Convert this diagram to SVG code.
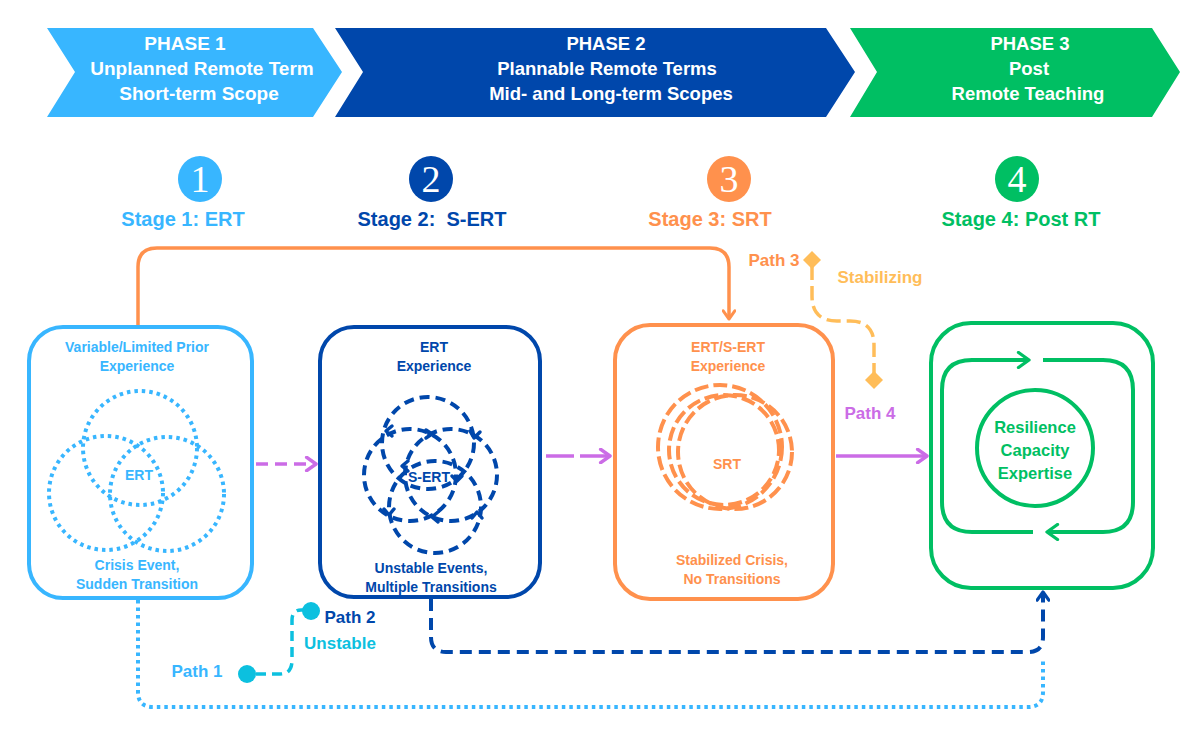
<svg xmlns="http://www.w3.org/2000/svg" width="1200" height="732" viewBox="0 0 1200 732">
<defs>
<style>
text{font-family:"Liberation Sans",Arial,sans-serif;font-weight:bold;text-anchor:middle;white-space:pre}
.ph{fill:#fff;font-size:18.5px}
.st{font-size:20px}
.bx{font-size:14px}
.lb{font-size:17px}
.num{font-family:"Liberation Serif","Times New Roman",serif;font-weight:normal;fill:#fff;font-size:38px}
.box{fill:#fff;stroke-width:4}
.dot{fill:none;stroke:#38B6FF;stroke-width:4;stroke-dasharray:3.5 4}
.dsh{fill:none;stroke:#0047AB;stroke-width:4;stroke-dasharray:10 6}
.osh{fill:none;stroke:#FF914D;stroke-width:4;stroke-dasharray:14 5}
.chev{fill:none;stroke:#0047AB;stroke-width:3.5;stroke-linecap:round;stroke-linejoin:round}
</style>
<marker id="aOr" viewBox="0 0 12 12" refX="10" refY="6" markerWidth="14" markerHeight="14" markerUnits="userSpaceOnUse" orient="auto"><path d="M3,1 L10,6 L3,11" fill="none" stroke="#FF914D" stroke-width="2.6" stroke-linecap="round" stroke-linejoin="round"/></marker>
<marker id="aPu" viewBox="0 0 12 12" refX="10" refY="6" markerWidth="16" markerHeight="16" markerUnits="userSpaceOnUse" orient="auto"><path d="M3,1 L10,6 L3,11" fill="none" stroke="#CB6CE6" stroke-width="2.6" stroke-linecap="round" stroke-linejoin="round"/></marker>
<marker id="aBl" viewBox="0 0 12 12" refX="10" refY="6" markerWidth="14" markerHeight="14" markerUnits="userSpaceOnUse" orient="auto"><path d="M3,1 L10,6 L3,11" fill="none" stroke="#0047AB" stroke-width="2.8" stroke-linecap="round" stroke-linejoin="round"/></marker>
<marker id="aGr" viewBox="0 0 12 12" refX="10" refY="6" markerWidth="18" markerHeight="18" markerUnits="userSpaceOnUse" orient="auto"><path d="M3,1 L10,6 L3,11" fill="none" stroke="#00BF63" stroke-width="2.2" stroke-linecap="round" stroke-linejoin="round"/></marker>
</defs>
<rect width="1200" height="732" fill="#fff"/>

<g id="phase1">
<path d="M47,28 L313,28 L342,72 L313,117 L47,117 L75,72 Z" fill="#38B6FF"/>
<text class="ph" x="185" y="50" style="font-size:19px">PHASE 1</text>
<text class="ph" x="202" y="75" style="font-size:19px">Unplanned Remote Term</text>
<text class="ph" x="199" y="100" style="font-size:19px">Short-term Scope</text>
</g>
<g id="phase2">
<path d="M335,28 L826,28 L855,72 L826,117 L335,117 L363,72 Z" fill="#0047AB"/>
<text class="ph" x="606" y="50">PHASE 2</text>
<text class="ph" x="607" y="75">Plannable Remote Terms</text>
<text class="ph" x="611" y="100">Mid- and Long-term Scopes</text>
</g>
<g id="phase3">
<path d="M850,28 L1152,28 L1180,72 L1152,117 L850,117 L877,72 Z" fill="#00BF63"/>
<text class="ph" x="1030" y="50">PHASE 3</text>
<text class="ph" x="1029" y="75">Post</text>
<text class="ph" x="1028" y="100">Remote Teaching</text>
</g>

<g id="stage1">
<ellipse cx="200" cy="179" rx="22" ry="23" fill="#38B6FF"/>
<text class="num" x="200" y="192">1</text>
<text class="st" x="183" y="226" fill="#38B6FF">Stage 1: ERT</text>
</g>
<g id="stage2">
<ellipse cx="431" cy="179" rx="22" ry="23" fill="#0047AB"/>
<text class="num" x="431" y="192">2</text>
<text class="st" x="432" y="226" fill="#0047AB">Stage 2:  S-ERT</text>
</g>
<g id="stage3">
<ellipse cx="729" cy="179" rx="22" ry="23" fill="#FF914D"/>
<text class="num" x="729" y="192">3</text>
<text class="st" x="710" y="226" fill="#FF914D">Stage 3: SRT</text>
</g>
<g id="stage4">
<ellipse cx="1017" cy="179" rx="22" ry="23" fill="#00BF63"/>
<text class="num" x="1017" y="192">4</text>
<text class="st" x="1021" y="226" fill="#00BF63">Stage 4: Post RT</text>
</g>

<g id="connectors">
<path d="M138,326 V267 Q138,248 157,248 H710 Q729,248 729,267 V319" fill="none" stroke="#FF914D" stroke-width="3.5" marker-end="url(#aOr)"/>
<path d="M256,464 H316" fill="none" stroke="#CB6CE6" stroke-width="3.5" stroke-dasharray="12 7" marker-end="url(#aPu)"/>
<path d="M546,456 H610" fill="none" stroke="#CB6CE6" stroke-width="3.5" stroke-dasharray="28 6" marker-end="url(#aPu)"/>
<path d="M836,456 H927" fill="none" stroke="#CB6CE6" stroke-width="3.5" marker-end="url(#aPu)"/>
<path d="M138,600 V692 Q138,707 153,707 H1028 Q1043,707 1043,692 V660" class="dot"/>
<path d="M431,599 V637 Q431,652 446,652 H1028 Q1043,652 1043,637 V592" fill="none" stroke="#0047AB" stroke-width="4" stroke-dasharray="12 7" marker-end="url(#aBl)"/>
<path d="M812,266 V296 Q812,321 837,321 H850 Q874,321 874,345 V374" fill="none" stroke="#FFBD59" stroke-width="3.5" stroke-dasharray="14 6"/>
<path d="M812,251 L821,260 L812,269 L803,260 Z" fill="#FFBD59"/>
<path d="M874,371 L883,380 L874,389 L865,380 Z" fill="#FFBD59"/>
<path d="M256,674 H280 Q292,674 292,660 V620 Q292,609 303,610" fill="none" stroke="#0CC0DF" stroke-width="3.5" stroke-dasharray="10 6"/>
<circle cx="247" cy="674" r="9" fill="#0CC0DF"/>
<circle cx="311" cy="611" r="9" fill="#0CC0DF"/>
<text class="lb" x="774" y="266" fill="#FF914D">Path 3</text>
<text class="lb" x="880" y="283" fill="#FFBD59">Stabilizing</text>
<text class="lb" x="870" y="419" fill="#CB6CE6">Path 4</text>
<text class="lb" x="197" y="677" fill="#38B6FF">Path 1</text>
<text class="lb" x="350" y="623" fill="#0047AB">Path 2</text>
<text class="lb" x="340" y="649" fill="#0CC0DF">Unstable</text>
</g>

<g id="box1">
<rect class="box" x="29" y="327" width="223" height="271" rx="34" stroke="#38B6FF"/>
<text class="bx" x="137" y="352" fill="#38B6FF">Variable/Limited Prior</text>
<text class="bx" x="137" y="371" fill="#38B6FF">Experience</text>
<circle class="dot" cx="140" cy="448" r="57"/>
<circle class="dot" cx="106" cy="493" r="57"/>
<circle class="dot" cx="167" cy="494" r="57"/>
<text class="bx" x="139" y="480" fill="#38B6FF">ERT</text>
<text class="bx" x="137" y="570" fill="#38B6FF">Crisis Event,</text>
<text class="bx" x="137" y="589" fill="#38B6FF">Sudden Transition</text>
</g>

<g id="box2">
<rect class="box" x="320" y="327" width="220" height="270" rx="34" stroke="#0047AB"/>
<text class="bx" x="434" y="352" fill="#0047AB">ERT</text>
<text class="bx" x="434" y="371" fill="#0047AB">Experience</text>
<circle class="dsh" cx="428" cy="443" r="46"/>
<circle class="dsh" cx="410" cy="475" r="46"/>
<circle class="dsh" cx="451" cy="475" r="46"/>
<circle class="dsh" cx="435" cy="507" r="46"/>
<polyline class="chev" points="470,431 474,438 480,432"/>
<polyline class="chev" points="392,426 386,431 392,436"/>
<polyline class="chev" points="426,430 432,434 426,438"/>
<polyline class="chev" points="408,461 402,466 408,471"/>
<polyline class="chev" points="452,476 457,481 462,476"/>
<polyline class="chev" points="384,509 389,515 394,509"/>
<polyline class="chev" points="472,518 477,512 482,518"/>
<polyline class="chev" points="438,512 432,517 438,522"/>
<text class="bx" x="429" y="482" fill="#0047AB">S-ERT</text>
<text class="bx" x="431" y="573" fill="#0047AB">Unstable Events,</text>
<text class="bx" x="431" y="592" fill="#0047AB">Multiple Transitions</text>
</g>

<g id="box3">
<rect class="box" x="615" y="325" width="218" height="274" rx="35" stroke="#FF914D"/>
<text class="bx" x="728" y="352" fill="#FF914D">ERT/S-ERT</text>
<text class="bx" x="728" y="371" fill="#FF914D">Experience</text>
<circle class="osh" cx="720" cy="447" r="62"/>
<circle class="osh" cx="735" cy="452" r="57"/>
<circle class="osh" cx="724" cy="450" r="55" stroke-dashoffset="8"/>
<text class="bx" x="727" y="469" fill="#FF914D">SRT</text>
<text class="bx" x="732" y="565" fill="#FF914D">Stabilized Crisis,</text>
<text class="bx" x="732" y="584" fill="#FF914D">No Transitions</text>
</g>

<g id="box4">
<rect class="box" x="931" y="323" width="222" height="265" rx="40" stroke="#00BF63"/>
<path d="M1043,360 H1103 Q1133,360 1133,390 V502 Q1133,532 1103,532 H1047" fill="none" stroke="#00BF63" stroke-width="4" marker-end="url(#aGr)"/>
<path d="M1033,532 H972 Q942,532 942,502 V390 Q942,360 972,360 H1029" fill="none" stroke="#00BF63" stroke-width="4" marker-end="url(#aGr)"/>
<circle cx="1035" cy="448" r="58" fill="#fff" stroke="#00BF63" stroke-width="4"/>
<text x="1035" y="433" font-size="16.5" fill="#00BF63">Resilience</text>
<text x="1035" y="456" font-size="16.5" fill="#00BF63">Capacity</text>
<text x="1035" y="479" font-size="16.5" fill="#00BF63">Expertise</text>
</g>
</svg>
